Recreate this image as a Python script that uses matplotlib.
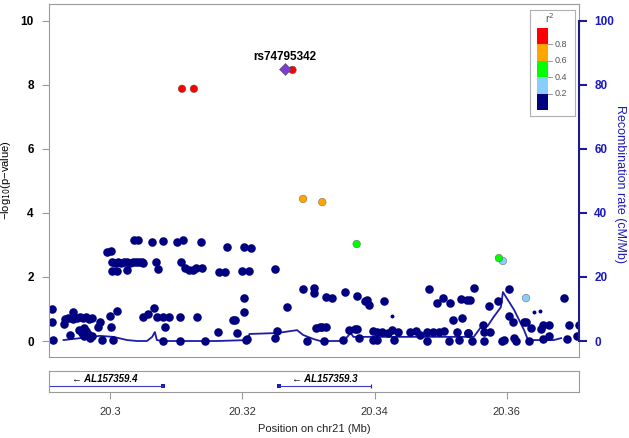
import matplotlib.pyplot as plt
import numpy as np

plt.rcParams['font.family'] = ['Liberation Sans', 'DejaVu Sans']

# ---- data ----
# SNPs with r2 < 0.2 (navy)
navy_pos = [20.2912, 20.2912, 20.2914, 20.2930, 20.2945, 20.2939,
            20.2932, 20.2936, 20.2941, 20.2945, 20.2950, 20.2955, 20.2959, 20.2964, 20.2968, 20.2973,
            20.2953, 20.2958, 20.2961, 20.2964, 20.2967, 20.2970, 20.2973, 20.2961,
            20.2982, 20.2985, 20.2988, 20.2995, 20.3002,
            20.3003, 20.3008, 20.3012, 20.3017, 20.3021, 20.3026, 20.3030, 20.3035, 20.3039, 20.3044, 20.3048,
            20.3003, 20.3011, 20.3026, 20.3036, 20.3042, 20.3050, 20.3064, 20.3070, 20.3073, 20.3080,
            20.3102, 20.3111, 20.3108, 20.3114, 20.3120, 20.3126, 20.3130, 20.3139, 20.3138, 20.3165,
            20.3174, 20.3177, 20.3203, 20.3214, 20.3200, 20.3211, 20.3250,
            20.3000, 20.3011, 20.3002, 20.3005, 20.3050, 20.3058, 20.3067, 20.3071, 20.3080, 20.3089,
            20.3106, 20.3083, 20.3080, 20.3106, 20.3132, 20.3144, 20.3164, 20.3186, 20.3189, 20.3192,
            20.3203, 20.3203, 20.3205, 20.3208, 20.3250, 20.3253, 20.3268, 20.3292, 20.3308, 20.3309,
            20.3298, 20.3311, 20.3317, 20.3321, 20.3326, 20.3323, 20.3326, 20.3336, 20.3356, 20.3352,
            20.3362, 20.3371, 20.3374, 20.3376, 20.3374, 20.3385, 20.3388, 20.3391, 20.3414, 20.3483,
            20.3495, 20.3503, 20.3514, 20.3530, 20.3539, 20.3518, 20.3532,
            20.3398, 20.3403, 20.3411, 20.3421, 20.3427, 20.3435, 20.3453, 20.3462, 20.3468, 20.3480,
            20.3489, 20.3497, 20.3505, 20.3524, 20.3541,
            20.3397, 20.3403, 20.3429, 20.3480, 20.3512, 20.3527,
            20.3550, 20.3603, 20.3545, 20.3573, 20.3586, 20.3686, 20.3603, 20.3609, 20.3564, 20.3565,
            20.3574, 20.3626, 20.3629, 20.3636, 20.3655, 20.3664, 20.3652, 20.3694, 20.3709, 20.3542,
            20.3547, 20.3565, 20.3592, 20.3595, 20.3611, 20.3614, 20.3633, 20.3655, 20.3664, 20.3691,
            20.3706]
navy_logp = [1.00, 0.59, 0.03, 0.53, 0.91, 0.19,
             0.69, 0.72, 0.72, 0.69, 0.72, 0.75, 0.72, 0.75, 0.69, 0.72,
             0.34, 0.25, 0.16, 0.31, 0.22, 0.09, 0.16, 0.41,
             0.44, 0.59, 0.03, 2.78, 2.81,
             2.47, 2.44, 2.47, 2.44, 2.47, 2.47, 2.44, 2.47, 2.47, 2.47, 2.47,
             2.19, 2.19, 2.22, 3.16, 3.16, 2.44, 3.09, 2.47, 2.25, 3.13,
             3.09, 3.16, 2.47, 2.28, 2.22, 2.22, 2.28, 2.28, 3.09, 2.16,
             2.16, 2.94, 2.94, 2.91, 2.19, 2.19, 2.25,
             0.78, 0.94, 0.44, 0.03, 0.75, 0.84, 1.03, 0.75, 0.75, 0.75,
             0.75, 0.44, 0.00, 0.00, 0.75, 0.00, 0.28, 0.66, 0.66, 0.25,
             1.34, 0.91, 0.03, 0.06, 0.09, 0.31, 1.06, 1.63, 1.50, 1.66,
             0.00, 0.41, 0.44, 0.44, 0.44, 0.00, 1.38, 1.34, 1.53, 0.03,
             0.34, 0.38, 0.38, 0.09, 1.41, 1.25, 1.28, 1.13, 1.25, 1.63,
             1.19, 1.34, 1.19, 1.31, 1.28, 0.66, 0.72,
             0.31, 0.28, 0.28, 0.25, 0.34, 0.28, 0.28, 0.31, 0.19, 0.28,
             0.28, 0.28, 0.31, 0.28, 0.25,
             0.03, 0.03, 0.03, 0.00, 0.00, 0.03,
             1.66, 1.63, 1.28, 1.09, 1.25, 1.34, 0.78, 0.59, 0.50, 0.28,
             0.28, 0.59, 0.59, 0.41, 0.50, 0.50, 0.38, 0.50, 0.50, 0.25,
             0.00, 0.00, 0.00, 0.03, 0.09, 0.00, 0.00, 0.06, 0.16, 0.06,
             0.16]

# small (low-quality) SNPs
small_pos = [20.3427, 20.3641, 20.3650]
small_logp = [0.78, 0.91, 0.94]

# SNPs with r2 >= 0.2
ld_pos = [20.3594, 20.3629, 20.3373, 20.3588, 20.3292, 20.3321, 20.3109, 20.3127, 20.3276]
ld_logp = [2.50, 1.34, 3.03, 2.59, 4.44, 4.34, 7.88, 7.88, 8.47]
ld_r2 = [0.3, 0.3, 0.5, 0.5, 0.7, 0.7, 0.9, 0.9, 0.9]

lead_name = "rs74795342"
lead_pos = 20.3264
lead_logp = 8.50

# recombination rate (cM/Mb)
recomb_pos = [20.2930, 20.2985, 20.3005, 20.3026, 20.3041, 20.3056, 20.3064, 20.3068, 20.3071,
              20.3080, 20.3162, 20.3208, 20.3211, 20.3253, 20.3283, 20.3292, 20.3308, 20.3318,
              20.3353, 20.3364, 20.3368, 20.3541, 20.3550, 20.3561, 20.3571, 20.3580, 20.3591,
              20.3594, 20.3611, 20.3626, 20.3632, 20.3671, 20.3682]
recomb_rate = [0.3, 1.6, 1.3, 0.3, 0.0, 0.0, 1.3, 2.8, 0.3,
               0.0, 0.0, 0.3, 2.2, 2.5, 3.4, 1.9, 0.6, 0.0,
               0.0, 2.5, 1.3, 1.3, 1.3, 4.4, 4.7, 7.5, 10.6,
               15.3, 9.7, 3.4, 0.3, 0.3, 0.9]

# genes
gene_names = ["AL157359.4", "AL157359.3"]
gene_start = [20.2904, 20.3256]
gene_end = [20.3080, 20.3394]
exon_pos = [20.3080, 20.3256]

# r2 legend
r2_breaks = [0.0, 0.2, 0.4, 0.6, 0.8, 1.0]
r2_colors = ["#000080", "#87CEFA", "#00FF00", "#FFA500", "#FF0000"]

xmin, xmax = 20.2908, 20.3709

def r2_color(r):
    i = np.searchsorted(r2_breaks, r, side="right") - 1
    return r2_colors[min(i, len(r2_colors) - 1)]

# ---- figure ----
fig = plt.figure(figsize=(6.29, 4.38), dpi=100)
ax = fig.add_axes([0.0779, 0.1849, 0.8426, 0.806])
ax2 = ax.twinx()

ax.set_xlim(xmin, xmax)
ax.set_ylim(-0.5, 10.53)
ax2.set_ylim(-5, 105.3)

grey = "#9a9a9a"
blue_txt = "#1a1ac0"

# recombination line drawn in main axes, scaled through ax2
ax.plot(recomb_pos, recomb_rate, color="#1c1ca8", lw=1.3, zorder=1, transform=ax2.transData)

ax.scatter(navy_pos, navy_logp, s=38, color="#000080", lw=0, zorder=2)
ax.scatter(small_pos, small_logp, s=8, color="#000080", lw=0, zorder=2)
ax.scatter(ld_pos, ld_logp, s=30, c=[r2_color(r) for r in ld_r2],
           edgecolors="#555555", linewidths=0.3, zorder=3)
ax.scatter([lead_pos], [lead_logp], s=38, marker="D", color="#7A3FD0",
           edgecolors="#444444", linewidths=0.3, zorder=4)
ax.text(lead_pos, lead_logp + 0.36, lead_name, ha="center", va="center",
        fontsize=8.5, fontweight="bold")

# left axis
ax.set_yticks([0, 2, 4, 6, 8, 10])
ax.set_yticklabels(["0", "2", "4", "6", "8", "10"], fontsize=8.5, fontweight="bold")
ax.tick_params(axis="y", length=5, color=grey, pad=6)
ax.set_xticks([])
for sp in ax.spines.values():
    sp.set_color(grey)
ax.set_ylabel("\u2212log$_{10}$(p\u2212value)", fontsize=8)
ax.yaxis.set_label_coords(-0.068, 0.5)

# right axis
ax2.set_yticks([0, 20, 40, 60, 80, 100])
ax2.set_yticklabels(["0", "20", "40", "60", "80", "100"], fontsize=8.5,
                    fontweight="bold", color=blue_txt)
ax2.spines["right"].set_bounds(0, 100)
ax2.spines["right"].set_color("#1c1c8c")
ax2.spines["right"].set_linewidth(1.5)
for side in ["top", "left", "bottom"]:
    ax2.spines[side].set_visible(False)
ax2.tick_params(axis="y", length=6, width=1.5, color="#1c1c8c", pad=5)
ax2.set_ylabel("Recombination rate (cM/Mb)", fontsize=9, color=blue_txt, rotation=270)
ax2.yaxis.label.set_rotation_mode("default")
ax2.yaxis.label.set_va("center")
ax2.yaxis.label.set_ha("center")
ax2.yaxis.set_label_coords(1.077, 0.49)

# legend
lax = fig.add_axes([0.8426, 0.7352, 0.0715, 0.242])
lax.set_xlim(0, 1)
lax.set_ylim(-0.073, 1.22)
lax.set_xticks([])
lax.set_yticks([])
for sp in lax.spines.values():
    sp.set_color("#b0b0b0")
lax.bar([0.28] * 5, np.diff(r2_breaks), bottom=r2_breaks[:-1], width=0.245,
        color=r2_colors, align="center")
for b in r2_breaks[1:-1]:
    lax.plot([0.40, 0.50], [b, b], color="#888888", lw=0.6)
    lax.text(0.55, b, f"{b:.1f}", fontsize=6.5, color="#555555", va="center", ha="left")
lax.text(0.44, 1.12, "r$^2$", fontsize=7.5, color="#555555", ha="center", va="center")

# gene panel
gax = fig.add_axes([0.0779, 0.105, 0.8426, 0.048])
gax.set_xlim(xmin, xmax)
gax.set_ylim(0, 1)
gax.set_yticks([])
for sp in gax.spines.values():
    sp.set_color(grey)
gax.hlines([0.29] * len(gene_names), gene_start, gene_end, color="#3a3ad0", lw=0.8)
gax.scatter(exon_pos, [0.29] * len(exon_pos), marker="s", s=7, color="#1c1ca8", lw=0)
gax.scatter([gene_end[1]], [0.29], marker="|", s=12, color="#1c1ca8", lw=0.8)
for name, s, e in zip(gene_names, gene_start, gene_end):
    gax.text((s + e) / 2, 0.64, "\u2190 " + name, ha="center", va="center",
             fontsize=7, style="italic", fontweight="bold")

gax.set_xticks([20.30, 20.32, 20.34, 20.36])
gax.set_xticklabels(["20.3", "20.32", "20.34", "20.36"], fontsize=8, color="#333333")
gax.tick_params(axis="x", length=5, color=grey, pad=6)
gax.set_xlabel("Position on chr21 (Mb)", fontsize=8, color="#222222", labelpad=5)

fig.savefig("out.png", dpi=100)
